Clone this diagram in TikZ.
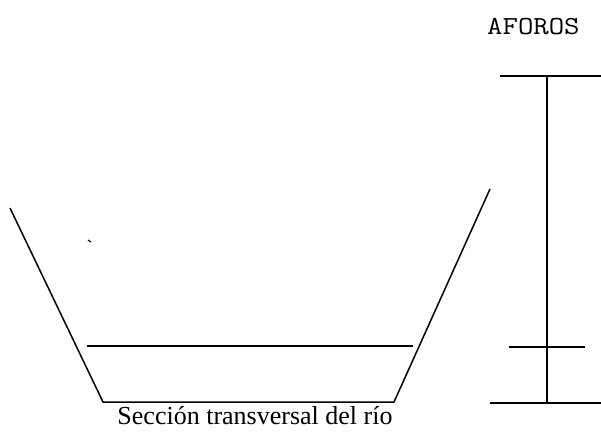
\documentclass[tikz,border=0pt]{standalone}
\usepackage{fontspec}
\setmainfont{Liberation Serif}
\usepackage{graphicx}
\begin{document}
\begin{tikzpicture}[x=1pt,y=-1pt,
  ln/.style={line width=1.5pt,black},
  lbl/.style={inner sep=0pt,font=\fontsize{26}{26}\selectfont}]
\useasboundingbox (0,0) rectangle (601,434);
% river cross-section
\coordinate (lt) at (10,208);
\coordinate (lb) at (103,402);
\coordinate (rb) at (394,402);
\coordinate (rt) at (490,189);
\coordinate (wl) at (87,346);
\coordinate (wr) at (413,346);
\coordinate (sp1) at (88,240);
\coordinate (sp2) at (91,242);
\draw[ln,line join=miter] (lt) -- (lb) -- (rb) -- (rt);
\draw[ln] (wl) -- (wr);
\draw[line width=1.2pt] (sp1) -- (sp2);
% gauge
\coordinate (st) at (547,76);
\coordinate (sb) at (547,403);
\coordinate (t1) at (500,76);
\coordinate (t2) at (601,76);
\coordinate (m1) at (509,347);
\coordinate (m2) at (585,347);
\coordinate (b1) at (490,403);
\coordinate (b2) at (601,403);
\draw[ln] (st) -- (sb);
\draw[ln] (t1) -- (t2);
\draw[ln] (m1) -- (m2);
\draw[ln] (b1) -- (b2);
% labels
\node[lbl,anchor=base] (cap) at (255,424) {Sección transversal del río};
\node[inner sep=0pt,anchor=base west,font=\ttfamily\fontsize{26}{26}\selectfont] (af) at (487,34) {\scalebox{1.15}[1]{AFOROS}};
\end{tikzpicture}
\end{document}
